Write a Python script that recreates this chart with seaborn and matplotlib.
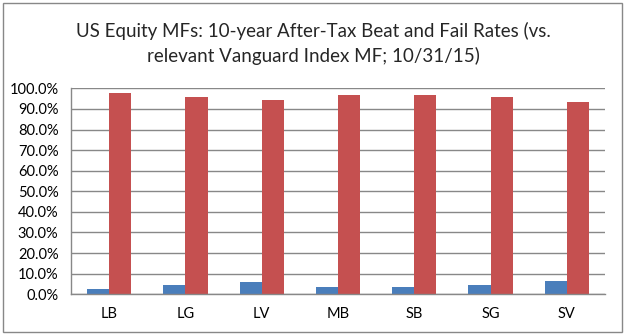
import matplotlib
matplotlib.use("Agg")
import matplotlib.pyplot as plt
import seaborn as sns
import pandas as pd
from matplotlib.patches import Rectangle
from matplotlib.ticker import FuncFormatter, MultipleLocator

categories = ["LB", "LG", "LV", "MB", "SB", "SG", "SV"]
beat_rates = [0.026, 0.045, 0.060, 0.035, 0.035, 0.045, 0.064]
fail_rates = [0.977, 0.958, 0.943, 0.967, 0.967, 0.958, 0.933]
series_names = ["Beat", "Fail"]
title = "US Equity MFs: 10-year After-Tax Beat and Fail Rates (vs.\nrelevant Vanguard Index MF; 10/31/15)"

df = pd.DataFrame({
    "category": categories * 2,
    "series": [series_names[0]] * len(categories) + [series_names[1]] * len(categories),
    "rate": beat_rates + fail_rates,
})

sns.set_style("white")
plt.rcParams["font.family"] = ["Lato", "DejaVu Sans"]

fig = plt.figure(figsize=(6.26, 3.34), dpi=100)
ax = fig.add_axes([0.1134, 0.1189, 0.9665 - 0.1134, 0.7356 - 0.1189])

sns.barplot(data=df, x="category", y="rate", hue="series",
            palette=["#4A7EBB", "#C55050"], width=0.58, gap=0,
            saturation=1, legend=False, ax=ax, edgecolor="none")

ax.set_ylim(0, 1.0)
ax.set_xlim(-0.5, len(categories) - 0.5)
ax.yaxis.set_major_locator(MultipleLocator(0.1))
ax.yaxis.set_major_formatter(FuncFormatter(lambda v, p: f"{v*100:.1f}%"))
ax.grid(axis="y", color="#888888", linewidth=1)
ax.set_axisbelow(True)
ax.set_xlabel("")
ax.set_ylabel("")

for s in ["top", "right"]:
    ax.spines[s].set_visible(False)
for s in ["left", "bottom"]:
    ax.spines[s].set_color("#888888")
    ax.spines[s].set_linewidth(1)

ax.set_xticks([i + 0.5 for i in range(-1, len(categories))], minor=True)
ax.tick_params(axis="x", which="major", length=0, labelsize=10.5, pad=9, colors="black")
ax.tick_params(axis="x", which="minor", length=4, color="#888888", width=1, direction="out")
ax.tick_params(axis="y", which="major", length=4, color="#888888", width=1, labelsize=10.5, pad=5, labelcolor="black")

fig.text(0.5, 1 - 22 / 334, title, ha="center", va="top", fontsize=13.5,
         linespacing=1.45)

fig.patches.append(Rectangle((3 / 626, 2 / 334), 619 / 626, 329 / 334,
                             transform=fig.transFigure, fill=False,
                             edgecolor="#888888", linewidth=1))

fig.savefig("out.png", dpi=100)
